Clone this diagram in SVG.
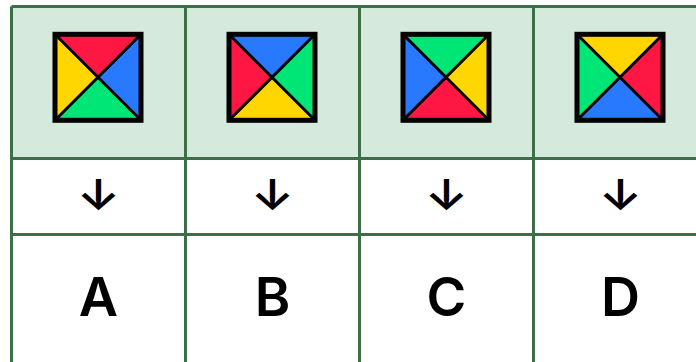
<svg xmlns="http://www.w3.org/2000/svg" width="696" height="362" viewBox="0 0 696 362">
<style>
.g{stroke:#3c6e47;stroke-width:3;fill:none}
.f{stroke:#000;stroke-width:3}
.o{fill:none;stroke:#000;stroke-width:5}
.r{fill:#ff1744}.b{fill:#2979ff}.y{fill:#ffd600}.n{fill:#00e676}
text{font-family:Inter,"Liberation Sans",sans-serif;fill:#000;text-anchor:middle}
.a{font-size:44px;font-weight:600}
.l{font-size:54px;font-weight:600}
</style>
<defs>
<path id="d" d="M-43-43L43 43M43-43L-43 43" class="f"/>
<path id="t" d="M-43-43H43L0 0Z"/>
<path id="ri" d="M43-43V43L0 0Z"/>
<path id="bo" d="M43 43H-43L0 0Z"/>
<path id="le" d="M-43 43V-43L0 0Z"/>
<rect id="s" x="-43" y="-43" width="86" height="86" class="o"/>
</defs>
<rect x="11.5" y="6.500" width="685" height="152" fill="#d5e9dc"/>
<g id="grid" class="g">
<path d="M11.500 6.500H696M11.500 158.500H696M11.500 234.500H696"/>
<path d="M11.500 6.500V362M185.500 6.500V362M359.500 6.500V362M533.500 6.500V362"/>
</g>
<g id="tile-a" transform="translate(98 77.300)"><use href="#t" class="r"/><use href="#ri" class="b"/><use href="#bo" class="n"/><use href="#le" class="y"/><use href="#d"/><use href="#s"/></g>
<g id="tile-b" transform="translate(272 77.300)"><use href="#t" class="b"/><use href="#ri" class="n"/><use href="#bo" class="y"/><use href="#le" class="r"/><use href="#d"/><use href="#s"/></g>
<g id="tile-c" transform="translate(446 77.300)"><use href="#t" class="n"/><use href="#ri" class="y"/><use href="#bo" class="r"/><use href="#le" class="b"/><use href="#d"/><use href="#s"/></g>
<g id="tile-d" transform="translate(620 77.300)"><use href="#t" class="y"/><use href="#ri" class="r"/><use href="#bo" class="b"/><use href="#le" class="n"/><use href="#d"/><use href="#s"/></g>
<g id="arrows">
<text class="a" transform="translate(98.500 210) scale(1.12 .96)">↓</text><text class="a" transform="translate(272.500 210) scale(1.12 .96)">↓</text><text class="a" transform="translate(446.500 210) scale(1.12 .96)">↓</text><text class="a" transform="translate(620.500 210) scale(1.12 .96)">↓</text>
</g>
<g id="labels">
<text class="l" x="98.500" y="316">A</text><text class="l" x="272.500" y="316">B</text><text class="l" x="446.500" y="316">C</text><text class="l" x="620.500" y="316">D</text>
</g>
</svg>
